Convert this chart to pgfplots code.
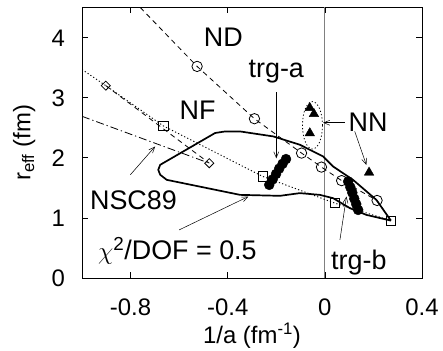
\documentclass[border=0pt]{standalone}
\usepackage{pgfplots}
\pgfplotsset{compat=1.18}
\usepackage{fontspec}
\setmainfont{Liberation Sans}
\usetikzlibrary{arrows.meta}
\begin{document}
\begin{tikzpicture}
\begin{axis}[
  scale only axis, width=340bp, height=270.5bp,
  xmin=-1, xmax=0.4, ymin=0, ymax=4.5,
  xtick={-0.8,-0.4,0,0.4}, xticklabels={-0.8,-0.4,0,0.4},
  ytick={0,1,2,3,4}, yticklabels={0,1,2,3,4},
  tick align=inside, major tick length=6bp,
  tick style={black, line width=0.6bp},
  axis line style={line width=0.8bp},
  ticklabel style={font=\fontsize{24}{24}\selectfont},
  xticklabel style={anchor=base, yshift=-37.5bp},
  yticklabel style={anchor=base east, inner sep=0pt, xshift=-17bp, yshift=-8.6bp},
  xlabel={1/a (fm\textsuperscript{-1})},
  ylabel={r\textsubscript{eff} (fm)},
  label style={font=\fontsize{24}{24}\selectfont},
  xlabel style={at={(axis description cs:0.5,0)}, anchor=base, yshift=-65bp},
  ylabel style={at={(axis description cs:-0.17,0.5)}, anchor=center},
  clip=true,
]
% vertical line at x=0
\addplot[gray, line width=0.8bp] coordinates {(0,0) (0,4.5)};

% ND dashed line
\addplot[black, line width=0.8bp, dash pattern=on 5bp off 4bp] coordinates {
(-0.760,4.5) (-0.526,3.52) (-0.29,2.65) (-0.096,2.078) (-0.014,1.845) (0.069,1.62) (0.215,1.29) (0.272,0.955)};
\addplot[black, only marks, mark=o, mark size=5.2bp, mark options={line width=0.8bp}] coordinates {
(-0.526,3.52) (-0.29,2.65) (-0.096,2.078) (-0.014,1.845) (0.069,1.62) (0.215,1.29)};

% NF dotted line
\addplot[black, line width=0.9bp, dash pattern=on 1.2bp off 2.2bp] coordinates {
(-1.0,3.47) (-0.902,3.2) (-0.665,2.53) (-0.256,1.69) (0.041,1.245) (0.272,0.955)};
\addplot[black, only marks, mark=square, mark size=4.6bp, mark options={line width=0.8bp}] coordinates {
(-0.665,2.53) (-0.256,1.69) (0.041,1.245) (0.272,0.955)};

% diamond dashed segment
\addplot[black, line width=0.8bp, dash pattern=on 5bp off 4bp] coordinates {
(-0.902,3.2) (-0.476,1.91)};
\addplot[black, only marks, mark=square, mark size=3.2bp, mark options={rotate=45, line width=0.8bp}] coordinates {
(-0.902,3.2) (-0.476,1.91)};

% NSC89 dash-dot
\addplot[black, line width=0.8bp, dash pattern=on 8bp off 3bp on 1.2bp off 3bp] coordinates {
(-1.0,2.69) (-0.476,1.91)};

% chi2/DOF = 0.5 contour
\addplot[black, line width=1.7bp, line join=round] coordinates {
(0.272,0.955) (0.171,1.05) (0.103,1.162) (0.034,1.328) (-0.021,1.383) (-0.103,1.412)
(-0.185,1.367) (-0.349,1.383) (-0.651,1.633) (-0.678,1.717) (-0.686,1.80) (-0.678,1.883)
(-0.452,2.412) (-0.411,2.438) (-0.349,2.438) (-0.212,2.355) (-0.103,2.217) (-0.007,2.022)
(0.034,1.855) (0.116,1.633) (0.212,1.30) (0.272,0.955)};

% trg-a filled circles
\addplot[black, only marks, mark=*, mark size=5bp] coordinates {
(-0.160,1.978) (-0.174,1.90) (-0.188,1.82) (-0.201,1.73) (-0.215,1.64) (-0.229,1.55)};
% trg-b filled circles
\addplot[black, only marks, mark=*, mark size=5bp] coordinates {
(0.096,1.605) (0.105,1.51) (0.113,1.42) (0.121,1.32) (0.129,1.23) (0.137,1.133)};

% NN triangles
\addplot[black, only marks, mark=triangle*, mark size=5.5bp] coordinates {
(-0.062,2.83) (-0.045,2.73) (-0.062,2.41) (0.182,1.755)};

% ellipse around NN
\draw[black, line width=0.8bp, dash pattern=on 1.2bp off 2.2bp] (axis cs:-0.051,2.54) ellipse [x radius=10bp, y radius=23.7bp];

% labels
\node[anchor=base, font=\fontsize{27}{27}\selectfont] at (axis cs:-0.418,3.855) {ND};
\node[anchor=base, font=\fontsize{27}{27}\selectfont] at (axis cs:-0.524,2.633) {NF};
\node[anchor=base, font=\fontsize{27}{27}\selectfont] at (axis cs:-0.20,3.328) {trg-a};
\node[anchor=base, font=\fontsize{27}{27}\selectfont] at (axis cs:0.178,2.44) {NN};
\node[anchor=base, font=\fontsize{27}{27}\selectfont] at (axis cs:-0.788,1.133) {NSC89};
\node[anchor=base, font=\fontsize{27}{27}\selectfont] at (axis cs:-0.607,0.30) {$\chi$\textsuperscript{2}/DOF = 0.5};
\node[anchor=base, font=\fontsize{27}{27}\selectfont] at (axis cs:0.14,0.145) {trg-b};

% arrows
\begin{scope}[line width=0.5bp, -{Straight Barb[length=6bp,width=5bp]}]
\draw (axis cs:-0.2,3.09) -- (axis cs:-0.2,1.99);
\draw (axis cs:0.082,2.583) -- (axis cs:-0.007,2.583);
\draw (axis cs:0.123,2.44) -- (axis cs:0.171,1.88);
\draw (axis cs:-0.801,1.717) -- (axis cs:-0.699,2.188);
\draw (axis cs:-0.6,0.8) -- (axis cs:-0.315,1.355);
\draw (axis cs:0.062,0.633) -- (axis cs:0.089,1.355);
\end{scope}
\end{axis}
\pgfresetboundingbox
\path[use as bounding box] ([shift={(-82bp,-73bp)}]current axis.south west) rectangle ([shift={(21bp,7.5bp)}]current axis.north east);
\end{tikzpicture}
\end{document}
